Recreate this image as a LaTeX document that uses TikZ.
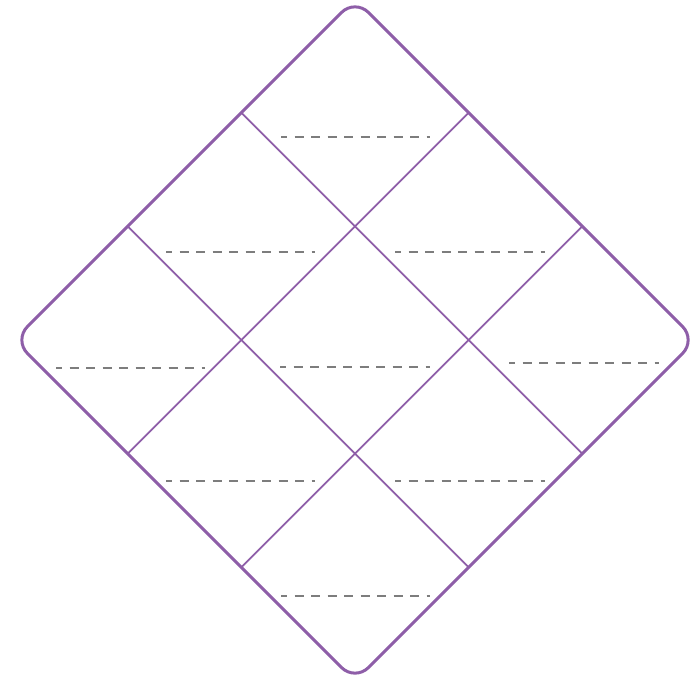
\documentclass[tikz,border=0pt]{standalone}
\usepackage{xcolor}
\definecolor{frame}{RGB}{142,94,168}
\definecolor{dashgray}{RGB}{125,125,125}
\begin{document}
\begin{tikzpicture}[x=1pt,y=-1pt,
  outer/.style={draw=frame,line width=3pt,rounded corners=19pt,line join=round},
  inner/.style={draw=frame,line width=1.8pt},
  blank/.style={draw=dashgray,line width=1.3pt,dash pattern=on 9pt off 7.5pt,dash phase=3pt}]
\useasboundingbox (0,0) rectangle (692,680);
% diamond vertices
\coordinate (L) at (14,340);
\coordinate (T) at (355,-1);
\coordinate (R) at (696,340);
\coordinate (B) at (355,681);
% edge division points
\coordinate (tl1) at (127.7,226.3);
\coordinate (tl2) at (241.3,112.7);
\coordinate (tr1) at (468.7,112.7);
\coordinate (tr2) at (582.3,226.3);
\coordinate (br1) at (582.3,453.7);
\coordinate (br2) at (468.7,567.3);
\coordinate (bl1) at (241.3,567.3);
\coordinate (bl2) at (127.7,453.7);
% grid lines
\draw[inner] (tl2) -- (br1);
\draw[inner] (tl1) -- (br2);
\draw[inner] (tr1) -- (bl2);
\draw[inner] (tr2) -- (bl1);
% outer frame
\draw[outer] (tl1) -- (T) -- (R) -- (B) -- (L) -- cycle;
% dashed blanks
\coordinate (d1a) at (281,137); \coordinate (d1b) at (430,137);
\coordinate (d2a) at (166,252); \coordinate (d2b) at (315,252);
\coordinate (d3a) at (395,252); \coordinate (d3b) at (545,252);
\coordinate (d4a) at (56,368); \coordinate (d4b) at (205,368);
\coordinate (d5a) at (280,367); \coordinate (d5b) at (430,367);
\coordinate (d6a) at (509,363); \coordinate (d6b) at (659,363);
\coordinate (d7a) at (166,481); \coordinate (d7b) at (315,481);
\coordinate (d8a) at (395,481); \coordinate (d8b) at (545,481);
\coordinate (d9a) at (281,596); \coordinate (d9b) at (430,596);
\foreach \i in {1,...,9} { \draw[blank] (d\i a) -- (d\i b); }
\end{tikzpicture}
\end{document}
